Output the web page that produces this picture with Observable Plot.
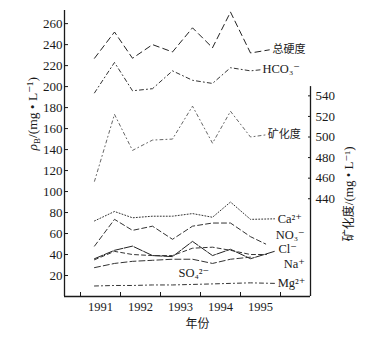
<!DOCTYPE html>
<html><head><meta charset="utf-8">
<script src="https://cdn.jsdelivr.net/npm/d3@7"></script>
<script src="https://cdn.jsdelivr.net/npm/@observablehq/plot@0.6"></script>
<style>body{margin:0;background:#fff}#chart{width:368px;height:337px}</style>
</head><body><div id="chart"></div>
<script>
// ---- data ----
const times = [1990.85, 1991.35, 1991.8, 1992.3, 1992.8, 1993.3, 1993.8, 1994.25, 1994.75];
const hardness = [227, 252, 227, 240, 233, 256, 237, 271, 232];
const hco3     = [194, 223, 196, 198, 215, 206, 203, 218, 215];
const mineral  = [457, 522, 487, 497, 498, 530, 494, 525, 500]; // right axis
const ca  = [72, 81, 75, 76.5, 76.5, 79, 75.5, 90, 73.5];
const no3 = [48, 73.5, 63, 67, 54.5, 67, 70, 70, 57];
const cl  = [36, 44, 48, 39, 38, 52.5, 39, 45, 36];
const na  = [35, 43, 40, 39, 39, 46, 47, 44, 40];
const so4 = [27.5, 31.5, 33.5, 34.5, 35.5, 35.5, 31.5, 35.5, 37.5];
const mg  = [10, 10.5, 10.5, 11, 11, 11.5, 12, 12.5, 13];
const yearLabels = [1991, 1992, 1993, 1994, 1995];
const leftTicks = [20, 40, 60, 80, 100, 120, 140, 160, 180, 200, 220, 240, 260];
const rightTicks = [440, 460, 480, 500, 520, 540];

// ---- scales ----
const xDomain = [1990.1, 1996.25];
const yDomain = [0, 272.5];
const rightRange = [345, 549];      // right-axis values spanned by the right axis line
const rightTopLeftUnits = 200;      // that span expressed in left-axis units
const toLeft = r => (r - rightRange[0]) / (rightRange[1] - rightRange[0]) * rightTopLeftUnits;
const fromLeft = v => v / rightTopLeftUnits * (rightRange[1] - rightRange[0]) + rightRange[0];

const serif = "'Liberation Serif', 'DejaVu Serif', serif";
const cjk = "'Noto Sans CJK SC', sans-serif";
const ink = "#1a1a1a";

const series = [
  {values: hardness, axis: "left", dash: "6,4", stroke: "#222", label: "总硬度", cjk: true, lead: [1995.22, 235], lx: 1995.3, ly: 235},
  {values: hco3, axis: "left", dash: "4,3,1,3", stroke: "#333", label: "HCO₃⁻", lead: [1995.0, 216], lx: 1995.05, ly: 217},
  {values: mineral, axis: "right", dash: "3,3,1,3", stroke: "#666", label: "矿化度", cjk: true, lead: [1995.12, 502], lx: 1995.18, ly: 502.5},
  {values: ca, axis: "left", dash: "1,2", stroke: "#333", label: "Ca²⁺", lead: [1995.35, 74], lx: 1995.43, ly: 74.3},
  {values: no3, axis: "left", dash: "5,3", stroke: "#333", label: "NO₃⁻", lead: [1995.13, 50], lx: 1995.38, ly: 59},
  {values: cl, axis: "left", dash: "9,1.5", stroke: "#222", label: "Cl⁻", lead: [1995.35, 43], lx: 1995.45, ly: 44.8},
  {values: na, axis: "left", dash: "4,3", stroke: "#333", label: "Na⁺", lead: [1995.15, 40], lx: 1995.58, ly: 31.4},
  {values: so4, axis: "left", dash: "6,3", stroke: "#333", label: "SO₄²⁻", lead: null, lx: 1992.95, ly: 22},
  {values: mg, axis: "left", dash: "4,3,1,3", stroke: "#333", label: "Mg²⁺", lead: [1995.35, 12.5], lx: 1995.43, ly: 12.4}
];

const marks = [];
for (const s of series) {
  const f = s.axis === "right" ? toLeft : (v => v);
  const pts = times.map((t, i) => ({t, v: f(s.values[i])}));
  if (s.lead) pts.push({t: s.lead[0], v: f(s.lead[1])});
  marks.push(Plot.line(pts, {x: "t", y: "v", stroke: s.stroke, strokeWidth: 1, strokeDasharray: s.dash}));
  marks.push(Plot.text([s], {x: d => d.lx, y: d => f(d.ly), text: d => d.label, textAnchor: "start",
    fontFamily: s.cjk ? cjk : serif, fontSize: s.cjk ? 11 : 12.5, fill: ink}));
}

// axis lines
marks.push(Plot.ruleX([xDomain[0]], {y1: yDomain[0], y2: yDomain[1], stroke: ink, strokeWidth: 1.3}));
marks.push(Plot.ruleY([0], {x1: xDomain[0], x2: xDomain[1], stroke: ink, strokeWidth: 1.3}));
marks.push(Plot.ruleX([xDomain[1]], {y1: 0, y2: toLeft(rightRange[1]), stroke: ink, strokeWidth: 1.3}));

// axes
marks.push(Plot.axisY(leftTicks, {anchor: "left", tickSize: -4, tickPadding: 6, label: null, fontSize: 13, fontFamily: serif, stroke: ink, fill: ink}));
marks.push(Plot.axisY(rightTicks.map(toLeft), {anchor: "right", tickSize: -3, tickPadding: 8, label: null,
  tickFormat: v => String(Math.round(fromLeft(v))), fontSize: 13, fontFamily: serif, stroke: ink, fill: ink}));
marks.push(Plot.axisX(yearLabels, {tickSize: 0, tickPadding: 6, label: null, tickFormat: d => String(d), fontSize: 12.5, fontFamily: serif, fill: ink}));
marks.push(Plot.axisX([...yearLabels.map(y => y - 0.5), yearLabels[yearLabels.length - 1] + 0.5], {tickSize: -4, tickFormat: () => "", label: null, stroke: ink}));

// axis titles
marks.push(Plot.text(["ρB/(mg • L⁻¹)"], {frameAnchor: "left", dx: -32, dy: -3, rotate: -90, text: d => d, fontFamily: serif, fontSize: 13.5, fill: ink}));
marks.push(Plot.text(["矿化度/(mg • L⁻¹)"], {frameAnchor: "right", dx: 38, dy: -7, rotate: -90, text: d => d, fontFamily: serif, fontSize: 13, fill: ink}));
marks.push(Plot.text(["年份"], {frameAnchor: "bottom", dx: 10, dy: 31, text: d => d, fontFamily: cjk, fontSize: 12, fill: ink}));

const chart = Plot.plot({
  width: 368, height: 337,
  marginLeft: 64, marginRight: 58, marginTop: 10, marginBottom: 41,
  x: {type: "linear", domain: xDomain},
  y: {type: "linear", domain: yDomain},
  style: {background: "#fff", color: ink, fontFamily: serif},
  marks
});

// subscript on ρB, CJK font for 矿化度
d3.select(chart).selectAll("text").each(function () {
  if (this.textContent === "ρB/(mg • L⁻¹)") {
    const t = d3.select(this);
    t.text(null);
    t.append("tspan").attr("font-style", "italic").text("ρ");
    t.append("tspan").attr("font-size", "9px").attr("dy", "3").text("B");
    t.append("tspan").attr("dy", "-3").text("/(mg • L⁻¹)");
  }
  if (this.textContent === "矿化度/(mg • L⁻¹)") {
    const t = d3.select(this);
    t.text(null);
    t.append("tspan").attr("font-family", cjk).attr("font-size", "12px").text("矿化度");
    t.append("tspan").text("/(mg • L⁻¹)");
  }
});
document.getElementById("chart").appendChild(chart);
</script>
</body></html>
